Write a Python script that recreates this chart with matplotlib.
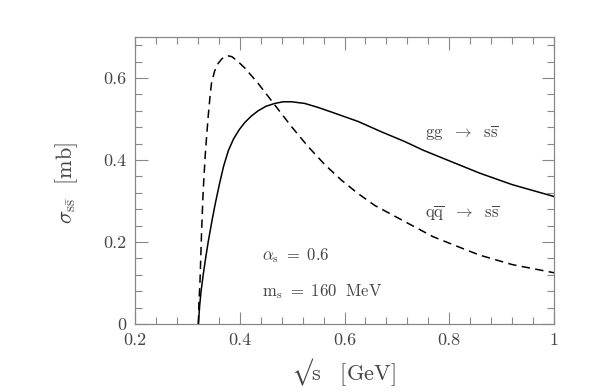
import numpy as np
import matplotlib.pyplot as plt
from matplotlib.ticker import MultipleLocator

# values
x_gg = [0.321, 0.3235, 0.326, 0.330, 0.335, 0.340, 0.347, 0.353, 0.361, 0.369, 0.378,
        0.388, 0.399, 0.410, 0.422, 0.435, 0.450, 0.467, 0.483, 0.499, 0.524, 0.550,
        0.575, 0.626, 0.670, 0.715, 0.750, 0.800, 0.858, 0.920, 1.000]
y_gg = [0.0, 0.045, 0.078, 0.118, 0.162, 0.202, 0.252, 0.292, 0.340, 0.384, 0.422,
        0.451, 0.474, 0.492, 0.507, 0.520, 0.531, 0.538, 0.542, 0.542, 0.538, 0.528,
        0.517, 0.494, 0.469, 0.445, 0.424, 0.398, 0.368, 0.340, 0.311]

x_qq = [0.321, 0.322, 0.324, 0.327, 0.330, 0.334, 0.337, 0.340, 0.343, 0.346, 0.352,
        0.359, 0.366, 0.372, 0.378, 0.385, 0.395, 0.410, 0.435, 0.467, 0.499, 0.531,
        0.563, 0.594, 0.626, 0.658, 0.709, 0.769, 0.820, 0.858, 0.920, 1.000]
y_qq = [0.0, 0.05, 0.10, 0.22, 0.32, 0.41, 0.462, 0.51, 0.552, 0.587, 0.617,
        0.636, 0.647, 0.653, 0.654, 0.652, 0.642, 0.624, 0.587, 0.534, 0.481, 0.432,
        0.388, 0.351, 0.318, 0.289, 0.254, 0.213, 0.187, 0.168, 0.145, 0.125]

plt.rcParams['font.family'] = 'cmr10'
plt.rcParams['mathtext.fontset'] = 'cm'
plt.rcParams['axes.formatter.use_mathtext'] = True

fig = plt.figure(figsize=(5.99, 3.92), dpi=100)
ax = fig.add_axes([135/599, 1 - 324/392, 419/599, 287/392])

ax.plot(x_gg, y_gg, color='black', lw=1.1)
ax.plot(x_qq, y_qq, color='black', lw=1.1, dashes=(5.5, 3.5))

ax.set_xlim(0.2, 1.0)
ax.set_ylim(0, 0.7)
ax.xaxis.set_minor_locator(MultipleLocator(0.04))
ax.yaxis.set_minor_locator(MultipleLocator(0.04))
ax.set_xticks([0.2, 0.4, 0.6, 0.8, 1.0])
ax.set_xticklabels(['0.2', '0.4', '0.6', '0.8', '1'])
ax.set_yticks([0, 0.2, 0.4, 0.6])
ax.set_yticklabels(['0', '0.2', '0.4', '0.6'])

tc = '#444444'
ax.tick_params(which='both', direction='in', top=True, right=True, colors='#888888',
               labelcolor=tc, labelsize=13)
ax.tick_params(which='major', length=9, width=0.8, pad=6)
ax.tick_params(which='minor', length=5, width=0.8)
for s in ax.spines.values():
    s.set_color('#888888')
    s.set_linewidth(0.9)

ax.set_xlabel('$\u221a\\mathrm{s}\\quad[\\mathrm{GeV}]$', fontsize=16, color=tc, va='center')
ax.xaxis.set_label_coords(0.496, -0.167)
ax.set_ylabel(r'$\sigma_{\mathrm{s\bar{s}}}\ \ [\mathrm{mb}]$', fontsize=16, color=tc, va='center')
ax.yaxis.set_label_coords(-0.162, 0.49)

ax.text(0.754, 0.465, r'$\mathrm{gg}\ \ \rightarrow\ \ \mathrm{s\overline{s}}$',
        fontsize=12, color=tc, va='center')
ax.text(0.754, 0.270, r'$\mathrm{q\overline{q}}\ \ \rightarrow\ \ \mathrm{s\overline{s}}$',
        fontsize=12, color=tc, va='center')
ax.text(0.442, 0.168, r'$\alpha_{\rm s}\ =\ 0.6$', fontsize=12, color=tc, va='center')
ax.text(0.442, 0.078, r'$\mathrm{m}_{\rm s}\ =\ 160\ \ \mathrm{MeV}$', fontsize=12, color=tc, va='center')

fig.savefig('out.png', dpi=100)
